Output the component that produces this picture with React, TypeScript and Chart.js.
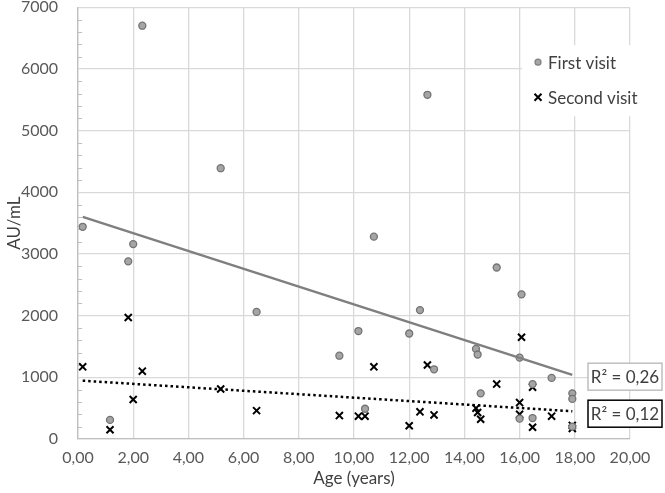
import React, { useEffect, useRef } from "react";
import { Chart, registerables } from "chart.js";

Chart.register(...registerables);

// First visit (circles)
const firstAge = [0.17, 1.16, 1.82, 2.0, 2.33, 5.17, 6.47, 9.47, 10.16, 10.4, 10.72, 12.0, 12.39, 12.66, 12.9, 14.42, 14.48, 14.59, 15.17, 16.0, 16.07, 16.0, 16.47, 16.47, 17.16, 17.91, 17.91, 17.91];
const firstAU = [3440, 310, 2880, 3160, 6700, 4390, 2060, 1350, 1750, 490, 3280, 1710, 2090, 5580, 1130, 1460, 1370, 740, 2780, 1320, 2345, 330, 890, 340, 990, 740, 650, 200];

// Second visit (crosses)
const secondAge = [0.17, 1.16, 1.82, 2.0, 2.33, 5.17, 6.47, 9.47, 10.16, 10.4, 10.72, 12.0, 12.39, 12.66, 12.9, 14.42, 14.48, 14.59, 15.17, 16.0, 16.0, 16.07, 16.47, 16.47, 17.16, 17.91, 17.91];
const secondAU = [1170, 150, 1970, 640, 1100, 810, 460, 380, 370, 370, 1170, 215, 440, 1200, 390, 500, 430, 320, 890, 590, 400, 1650, 840, 190, 370, 220, 170];

// Linear trend lines (end points)
const firstTrendAge = [0.17, 17.91];
const firstTrendAU = [3600, 1040];
const secondTrendAge = [0.17, 17.91];
const secondTrendAU = [945, 450];

const seriesNames = ["First visit", "Second visit"];
const rSquaredLabels = ["R\u00B2 = 0,26", "R\u00B2 = 0,12"];

const FONT = "Lato, 'Open Sans', sans-serif";
const TEXT = "#404040";

const overlay = {
  id: "overlay",
  beforeDatasetsDraw(chart: any) {
    const { ctx, chartArea, scales } = chart;
    const y = scales.y;
    ctx.save();
    // minor ticks on value axis
    ctx.strokeStyle = "#bfbfbf";
    ctx.lineWidth = 1;
    for (let v = 200; v < 7000; v += 200) {
      if (v % 1000 === 0) continue;
      const py = Math.round(y.getPixelForValue(v)) + 0.5;
      ctx.beginPath();
      ctx.moveTo(chartArea.left, py);
      ctx.lineTo(chartArea.left + 4, py);
      ctx.stroke();
    }
    // legend box
    const bx = chartArea.right - 108;
    const by = chartArea.top + 38;
    ctx.fillStyle = "#ffffff";
    ctx.fillRect(bx, by, 125, 71);
    ctx.font = `17px ${FONT}`;
    ctx.fillStyle = TEXT;
    ctx.textBaseline = "middle";
    ctx.textAlign = "left";
    // first visit marker
    ctx.beginPath();
    ctx.arc(bx + 16, by + 17, 3, 0, Math.PI * 2);
    ctx.fillStyle = "#a5a5a5";
    ctx.fill();
    ctx.strokeStyle = "#7f7f7f";
    ctx.lineWidth = 1.2;
    ctx.stroke();
    ctx.fillStyle = TEXT;
    ctx.fillText(seriesNames[0], bx + 26, by + 18);
    // second visit marker
    const cx = bx + 16;
    const cy = by + 52;
    ctx.strokeStyle = "#000000";
    ctx.lineWidth = 2;
    ctx.beginPath();
    ctx.moveTo(cx - 3.5, cy - 3.5);
    ctx.lineTo(cx + 3.5, cy + 3.5);
    ctx.moveTo(cx + 3.5, cy - 3.5);
    ctx.lineTo(cx - 3.5, cy + 3.5);
    ctx.stroke();
    ctx.fillText(seriesNames[1], bx + 26, cy + 1);
    ctx.restore();
  },
  afterDraw(chart: any) {
    const { ctx, chartArea } = chart;
    ctx.save();
    ctx.font = `17px ${FONT}`;
    ctx.textBaseline = "middle";
    ctx.textAlign = "center";
    const boxes = [
      { top: chartArea.top + 356, border: "#bfbfbf", lw: 1.5 },
      { top: chartArea.top + 393, border: "#000000", lw: 1.5 },
    ];
    boxes.forEach((b, i) => {
      const left = chartArea.right - 42;
      ctx.fillStyle = "#ffffff";
      ctx.fillRect(left, b.top, 74, 27);
      ctx.strokeStyle = b.border;
      ctx.lineWidth = b.lw;
      ctx.strokeRect(left, b.top, 74, 27);
      ctx.fillStyle = TEXT;
      ctx.fillText(rSquaredLabels[i], left + 37, b.top + 14);
    });
    ctx.restore();
  },
};

export default function App() {
  const ref = useRef<HTMLCanvasElement | null>(null);

  useEffect(() => {
    document.body.style.margin = "0";
    const canvas = ref.current;
    if (!canvas) return;
    const chart = new Chart(canvas, {
      type: "scatter",
      data: {
        datasets: [
          {
            type: "line",
            label: "trend1",
            data: firstTrendAge.map((x, i) => ({ x, y: firstTrendAU[i] })),
            borderColor: "#7f7f7f",
            borderWidth: 2.5,
            pointRadius: 0,
            showLine: true,
            fill: false,
          } as any,
          {
            type: "line",
            label: "trend2",
            data: secondTrendAge.map((x, i) => ({ x, y: secondTrendAU[i] })),
            borderColor: "#000000",
            borderWidth: 2.5,
            borderDash: [2.5, 3],
            pointRadius: 0,
            showLine: true,
            fill: false,
          } as any,
          {
            label: seriesNames[0],
            data: firstAge.map((x, i) => ({ x, y: firstAU[i] })),
            pointStyle: "circle",
            pointRadius: 3.5,
            backgroundColor: "#a5a5a5",
            borderColor: "#737373",
            borderWidth: 1.3,
          },
          {
            label: seriesNames[1],
            data: secondAge.map((x, i) => ({ x, y: secondAU[i] })),
            pointStyle: "crossRot",
            pointRadius: 5,
            borderColor: "#000000",
            backgroundColor: "#000000",
            borderWidth: 2,
          },
        ],
      },
      options: {
        animation: false,
        responsive: false,
        layout: { padding: { top: 0, right: 35, left: 0, bottom: 0 } },
        plugins: {
          legend: { display: false },
          tooltip: { enabled: false },
        },
        scales: {
          x: {
            type: "linear",
            min: 0,
            max: 20,
            ticks: {
              stepSize: 2,
              padding: 9,
              maxRotation: 0,
              color: "#595959",
              font: { family: FONT, size: 16 },
              callback: (v: any) => Number(v).toFixed(2).replace(".", ","),
            },
            grid: { color: "#d9d9d9", lineWidth: 1.3, drawTicks: false },
            border: { color: "#bfbfbf", width: 1.3 },
            title: {
              display: true,
              text: "Age (years)",
              color: TEXT,
              font: { family: FONT, size: 17 },
              padding: { top: 0, bottom: 4 },
            },
            afterFit: (s: any) => {
              s.height = 54;
            },
          },
          y: {
            type: "linear",
            min: 0,
            max: 7000,
            ticks: {
              stepSize: 1000,
              padding: 0,
              color: "#595959",
              font: { family: FONT, size: 16, lineHeight: 0.9 },
              callback: (v: any) => String(v),
            },
            grid: {
              color: "#d9d9d9",
              lineWidth: 1.3,
              drawTicks: true,
              tickLength: 20,
              tickColor: "rgba(0,0,0,0)",
            },
            border: { color: "#bfbfbf", width: 1.3 },
            title: {
              display: true,
              text: "AU/mL",
              color: TEXT,
              font: { family: FONT, size: 17 },
              padding: { top: 4, bottom: 4 },
            },
            afterFit: (s: any) => {
              s.width = 78;
            },
          },
        },
      },
      plugins: [overlay],
    });
    return () => chart.destroy();
  }, []);

  return (
    <div style={{ width: 665, height: 493, background: "#ffffff" }}>
      <canvas ref={ref} width={665} height={493} style={{ display: "block" }} />
    </div>
  );
}
